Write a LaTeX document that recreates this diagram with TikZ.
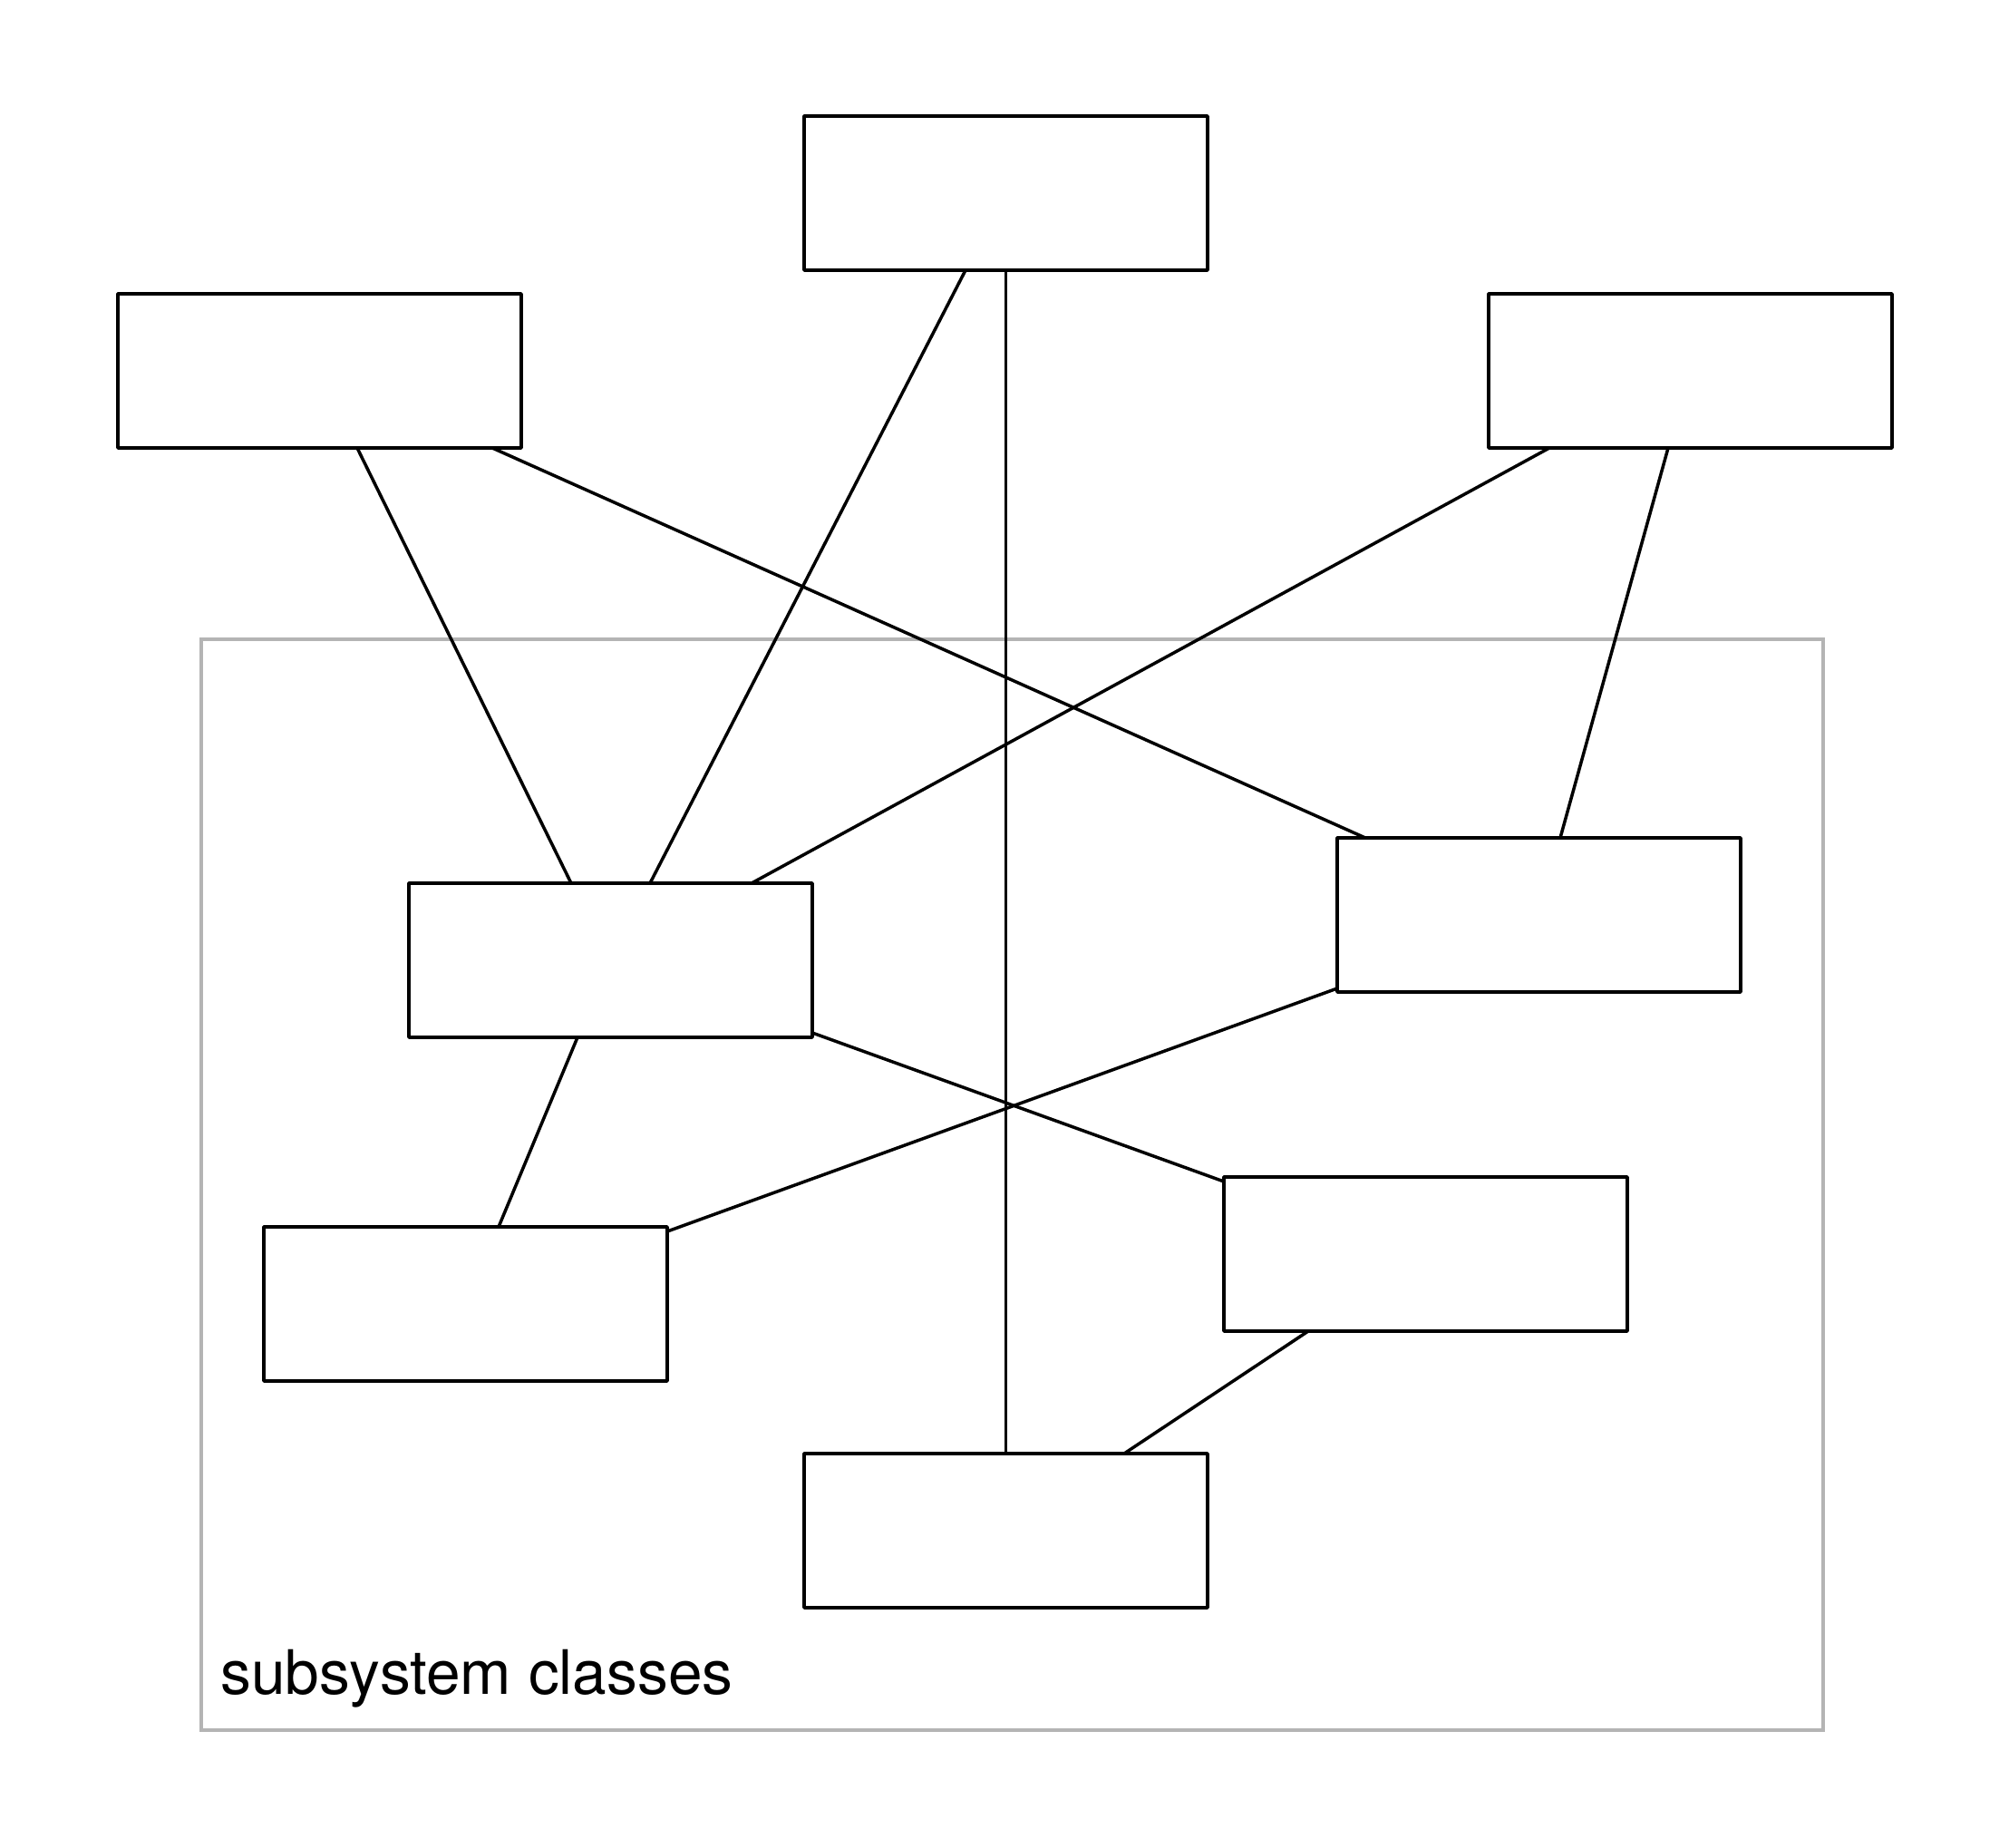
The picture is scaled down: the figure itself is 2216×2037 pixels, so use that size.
\documentclass[tikz,border=0pt]{standalone}
\usepackage{fontspec}
\setmainfont{TeX Gyre Heros}
\definecolor{framegray}{RGB}{180,180,180}
\tikzset{
  cls/.style={draw=black, line width=3.5pt, fill=white, minimum width=445pt, minimum height=170pt, inner sep=0pt, outer sep=0pt, line join=round},
  link/.style={draw=black, line width=3.5pt},
  pkgframe/.style={draw=framegray, line width=4pt, minimum width=1789pt, minimum height=1203pt, inner sep=0pt, outer sep=0pt}
}
\begin{document}
\begin{tikzpicture}[x=1pt,y=-1pt]
\useasboundingbox (0,0) rectangle (2216,2037);
\node[pkgframe] (sub) at (1116.5,1306.5) {};
\node[anchor=base west, inner sep=0pt, font=\fontsize{67.6}{80}\selectfont] (lbl) at (243,1868) {subsystem classes};
\node[cls] (top) at (1109.5,213) {};
\node[cls] (lt) at (352.5,409) {};
\node[cls] (rt) at (1864.5,409) {};
\node[cls] (ml) at (673.5,1059) {};
\node[cls] (mr) at (1697.5,1009) {};
\node[cls] (ll) at (513.5,1438) {};
\node[cls] (lr) at (1572.5,1383) {};
\node[cls] (b) at (1109.5,1688) {};
\draw[link] ([xshift=178pt]top.south west) -- ([xshift=266pt]ml.north west);
\draw[link] (top.south) -- (b.north);
\draw[link] ([xshift=264pt]lt.south west) -- ([xshift=179pt]ml.north west);
\draw[link] ([xshift=413pt]lt.south west) -- ([xshift=31pt]mr.north west);
\draw[link] ([xshift=67pt]rt.south west) -- ([xshift=378pt]ml.north west);
\draw[link] ([xshift=198pt]rt.south west) -- ([xshift=246pt]mr.north west);
\draw[link] ([yshift=5pt]ml.south east) -- ([yshift=-5pt]lr.north west);
\draw[link] ([xshift=186pt]ml.south west) -- ([xshift=259pt]ll.north west);
\draw[link] ([yshift=4pt]mr.south west) -- ([yshift=-5pt]ll.north east);
\draw[link] ([xshift=93pt]lr.south west) -- ([xshift=353pt]b.north west);
\end{tikzpicture}
\end{document}
